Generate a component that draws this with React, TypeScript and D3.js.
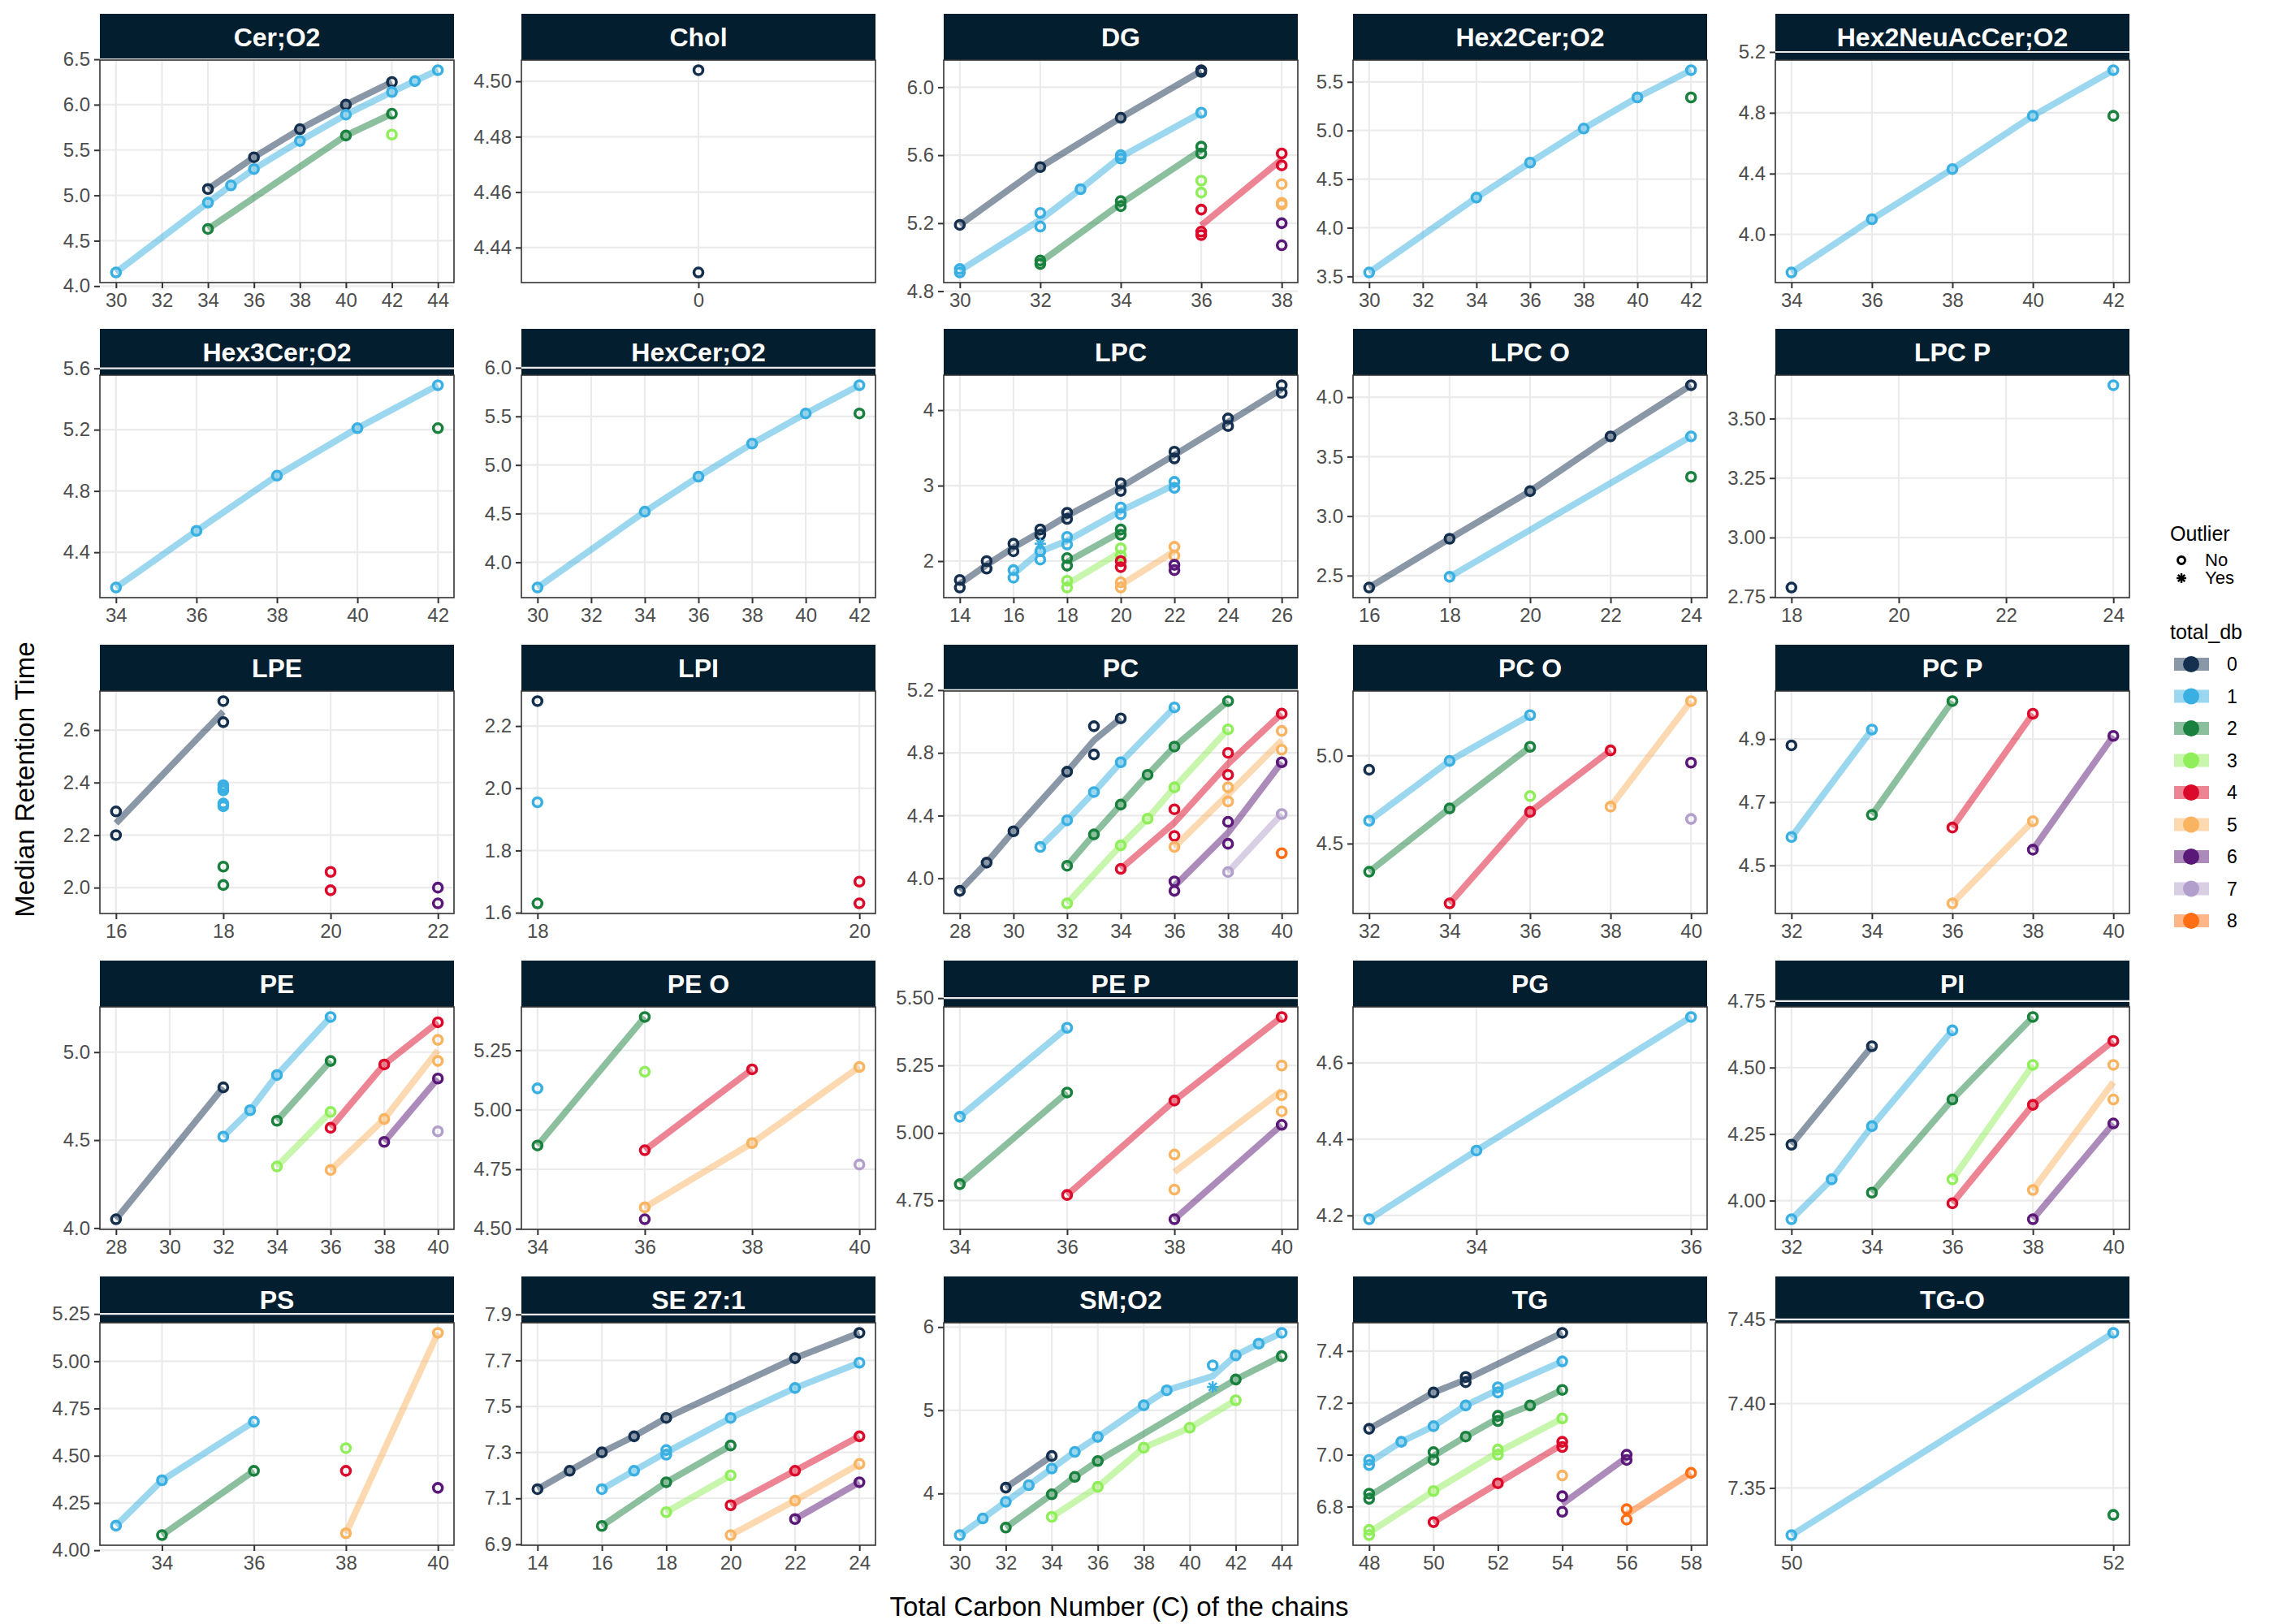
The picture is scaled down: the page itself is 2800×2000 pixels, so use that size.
import * as d3 from "d3";
import { useEffect, useRef } from "react";

// [carbon, median RT, total_db, outlier]
type Pt = [number, number, number, number?];

const dbColors = ["#15304F", "#3AB0E2", "#19803D", "#90EE5A", "#DC0A2A", "#F9B462", "#5A1878", "#B39FCC", "#FF6E14"];
const dbLevels = ["0", "1", "2", "3", "4", "5", "6", "7", "8"];
const outlierLevels = ["No", "Yes"];

const cerO2: Pt[] = [
  [34, 5.07, 0], [36, 5.42, 0], [38, 5.73, 0], [40, 6.0, 0], [42, 6.25, 0],
  [30, 4.15, 1], [34, 4.92, 1], [35, 5.11, 1], [36, 5.29, 1], [38, 5.6, 1], [40, 5.89, 1], [42, 6.14, 1], [43, 6.26, 1], [44, 6.38, 1],
  [34, 4.63, 2], [40, 5.66, 2], [42, 5.9, 2],
  [42, 5.67, 3],
];
const chol: Pt[] = [[0, 4.504, 0], [0, 4.431, 0]];
const dg: Pt[] = [
  [30, 5.19, 0], [32, 5.53, 0], [34, 5.82, 0], [36, 6.09, 0], [36, 6.1, 0],
  [30, 4.91, 1], [30, 4.93, 1], [32, 5.26, 1], [32, 5.18, 1], [33, 5.4, 1], [34, 5.58, 1], [34, 5.6, 1], [36, 5.85, 1],
  [32, 4.98, 2], [32, 4.96, 2], [34, 5.33, 2], [34, 5.3, 2], [36, 5.65, 2], [36, 5.61, 2],
  [36, 5.45, 3], [36, 5.38, 3],
  [36, 5.28, 4], [36, 5.15, 4], [36, 5.13, 4], [38, 5.61, 4], [38, 5.54, 4],
  [38, 5.43, 5], [38, 5.32, 5], [38, 5.31, 5],
  [38, 5.2, 6], [38, 5.07, 6],
];
const hex2Cer: Pt[] = [
  [30, 3.54, 1], [34, 4.31, 1], [36, 4.67, 1], [38, 5.02, 1], [40, 5.34, 1], [42, 5.62, 1],
  [42, 5.34, 2],
];
const hex2NeuAc: Pt[] = [
  [34, 3.75, 1], [36, 4.1, 1], [38, 4.43, 1], [40, 4.78, 1], [42, 5.08, 1],
  [42, 4.78, 2],
];
const hex3Cer: Pt[] = [
  [34, 4.17, 1], [36, 4.54, 1], [38, 4.9, 1], [40, 5.21, 1], [42, 5.49, 1],
  [42, 5.21, 2],
];
const hexCer: Pt[] = [
  [30, 3.74, 1], [34, 4.52, 1], [36, 4.88, 1], [38, 5.22, 1], [40, 5.53, 1], [42, 5.82, 1],
  [42, 5.53, 2],
];
const lpc: Pt[] = [
  [14, 1.75, 0], [14, 1.65, 0], [15, 2.0, 0], [15, 1.9, 0], [16, 2.23, 0], [16, 2.13, 0], [17, 2.42, 0], [17, 2.35, 0],
  [18, 2.64, 0], [18, 2.56, 0], [20, 3.03, 0], [20, 2.93, 0], [22, 3.45, 0], [22, 3.36, 0], [24, 3.89, 0], [24, 3.79, 0], [26, 4.33, 0], [26, 4.23, 0],
  [16, 1.88, 1], [16, 1.78, 1], [17, 2.13, 1], [17, 2.02, 1], [17, 2.23, 1, 1], [18, 2.32, 1], [18, 2.22, 1], [20, 2.71, 1], [20, 2.62, 1], [22, 3.05, 1], [22, 2.97, 1],
  [18, 2.04, 2], [18, 1.94, 2], [20, 2.42, 2], [20, 2.35, 2],
  [18, 1.74, 3], [18, 1.65, 3], [20, 2.17, 3], [20, 2.07, 3],
  [20, 2.0, 4], [20, 1.92, 4],
  [20, 1.72, 5], [20, 1.65, 5], [22, 2.19, 5], [22, 2.07, 5],
  [22, 1.95, 6], [22, 1.88, 6],
];
const lpcO: Pt[] = [
  [16, 2.4, 0], [18, 2.81, 0], [20, 3.21, 0], [22, 3.67, 0], [24, 4.1, 0],
  [18, 2.49, 1], [24, 3.67, 1],
  [24, 3.33, 2],
];
const lpcP: Pt[] = [[18, 2.79, 0], [24, 3.64, 1]];
const lpe: Pt[] = [
  [16, 2.29, 0], [16, 2.2, 0], [18, 2.71, 0], [18, 2.63, 0],
  [18, 2.39, 1], [18, 2.38, 1], [18, 2.37, 1], [18, 2.32, 1], [18, 2.31, 1],
  [18, 2.08, 2], [18, 2.01, 2],
  [20, 2.06, 4], [20, 1.99, 4],
  [22, 2.0, 6], [22, 1.94, 6],
];
const lpi: Pt[] = [[18, 2.28, 0], [18, 1.955, 1], [18, 1.63, 2], [20, 1.7, 4], [20, 1.63, 4]];
const pc: Pt[] = [
  [28, 3.92, 0], [29, 4.1, 0], [30, 4.3, 0], [32, 4.68, 0], [33, 4.79, 0], [33, 4.97, 0], [34, 5.02, 0],
  [31, 4.2, 1], [32, 4.37, 1], [33, 4.55, 1], [34, 4.74, 1], [36, 5.09, 1],
  [32, 4.08, 2], [33, 4.28, 2], [34, 4.47, 2], [35, 4.66, 2], [36, 4.84, 2], [38, 5.13, 2],
  [32, 3.84, 3], [34, 4.21, 3], [35, 4.38, 3], [36, 4.58, 3], [38, 4.95, 3],
  [34, 4.06, 4], [36, 4.44, 4], [36, 4.27, 4], [38, 4.8, 4], [38, 4.66, 4], [40, 5.05, 4],
  [36, 4.2, 5], [38, 4.58, 5], [38, 4.49, 5], [40, 4.94, 5], [40, 4.82, 5],
  [36, 3.98, 6], [36, 3.92, 6], [38, 4.36, 6], [38, 4.22, 6], [40, 4.74, 6],
  [38, 4.04, 7], [40, 4.41, 7],
  [40, 4.16, 8],
];
const pcO: Pt[] = [
  [32, 4.92, 0],
  [32, 4.63, 1], [34, 4.97, 1], [36, 5.23, 1],
  [32, 4.34, 2], [34, 4.7, 2], [36, 5.05, 2],
  [36, 4.77, 3],
  [34, 4.16, 4], [36, 4.68, 4], [38, 5.03, 4],
  [38, 4.71, 5], [40, 5.31, 5],
  [40, 4.96, 6],
  [40, 4.64, 7],
];
const pcP: Pt[] = [
  [32, 4.88, 0],
  [32, 4.59, 1], [34, 4.93, 1],
  [34, 4.66, 2], [36, 5.02, 2],
  [36, 4.62, 4], [38, 4.98, 4],
  [36, 4.38, 5], [38, 4.64, 5],
  [38, 4.55, 6], [40, 4.91, 6],
];
const pe: Pt[] = [
  [28, 4.05, 0], [32, 4.8, 0],
  [32, 4.52, 1], [33, 4.67, 1], [34, 4.87, 1], [36, 5.2, 1],
  [34, 4.61, 2], [36, 4.95, 2],
  [34, 4.35, 3], [36, 4.66, 3],
  [36, 4.57, 4], [38, 4.93, 4], [40, 5.17, 4],
  [36, 4.33, 5], [38, 4.62, 5], [40, 4.95, 5], [40, 5.07, 5],
  [38, 4.49, 6], [40, 4.85, 6],
  [40, 4.55, 7],
];
const peO: Pt[] = [
  [34, 5.09, 1],
  [34, 4.85, 2], [36, 5.39, 2],
  [36, 5.16, 3],
  [36, 4.83, 4], [38, 5.17, 4],
  [36, 4.59, 5], [38, 4.86, 5], [40, 5.18, 5],
  [36, 4.54, 6],
  [40, 4.77, 7],
];
const peP: Pt[] = [
  [34, 5.06, 1], [36, 5.39, 1],
  [34, 4.81, 2], [36, 5.15, 2],
  [36, 4.77, 4], [38, 5.12, 4], [40, 5.43, 4],
  [38, 4.92, 5], [38, 4.79, 5], [40, 5.25, 5], [40, 5.14, 5], [40, 5.08, 5],
  [38, 4.68, 6], [40, 5.03, 6],
];
const pg: Pt[] = [[33, 4.19, 1], [34, 4.37, 1], [36, 4.72, 1]];
const pi: Pt[] = [
  [32, 4.21, 0], [34, 4.58, 0],
  [32, 3.93, 1], [33, 4.08, 1], [34, 4.28, 1], [36, 4.64, 1],
  [34, 4.03, 2], [36, 4.38, 2], [38, 4.69, 2],
  [36, 4.08, 3], [38, 4.51, 3],
  [36, 3.99, 4], [38, 4.36, 4], [40, 4.6, 4],
  [38, 4.04, 5], [40, 4.51, 5], [40, 4.38, 5],
  [38, 3.93, 6], [40, 4.29, 6],
];
const ps: Pt[] = [
  [33, 4.13, 1], [34, 4.37, 1], [36, 4.68, 1],
  [34, 4.08, 2], [36, 4.42, 2],
  [38, 4.54, 3],
  [38, 4.42, 4],
  [38, 4.09, 5], [40, 5.15, 5],
  [40, 4.33, 6],
];
const se271: Pt[] = [
  [14, 7.14, 0], [15, 7.22, 0], [16, 7.3, 0], [17, 7.37, 0], [18, 7.45, 0], [22, 7.71, 0], [24, 7.82, 0],
  [16, 7.14, 1], [17, 7.22, 1], [18, 7.31, 1], [18, 7.29, 1], [20, 7.45, 1], [22, 7.58, 1], [24, 7.69, 1],
  [16, 6.98, 2], [18, 7.17, 2], [20, 7.33, 2],
  [18, 7.04, 3], [20, 7.2, 3],
  [20, 7.07, 4], [22, 7.22, 4], [24, 7.37, 4],
  [20, 6.94, 5], [22, 7.09, 5], [24, 7.25, 5],
  [22, 7.01, 6], [24, 7.17, 6],
];
const smO2: Pt[] = [
  [32, 4.07, 0], [34, 4.45, 0],
  [30, 3.5, 1], [31, 3.7, 1], [32, 3.9, 1], [33, 4.1, 1], [34, 4.3, 1], [35, 4.5, 1], [36, 4.68, 1], [38, 5.06, 1],
  [39, 5.24, 1], [41, 5.54, 1], [42, 5.66, 1], [43, 5.8, 1], [44, 5.93, 1], [41, 5.28, 1, 1],
  [32, 3.59, 2], [34, 3.99, 2], [35, 4.2, 2], [36, 4.39, 2], [42, 5.37, 2], [44, 5.65, 2],
  [34, 3.72, 3], [36, 4.08, 3], [38, 4.55, 3], [40, 4.79, 3], [42, 5.12, 3],
];
const tg: Pt[] = [
  [48, 7.1, 0], [50, 7.24, 0], [51, 7.3, 0], [51, 7.28, 0], [54, 7.47, 0],
  [48, 6.98, 1], [48, 6.96, 1], [49, 7.05, 1], [50, 7.11, 1], [51, 7.19, 1], [52, 7.26, 1], [52, 7.24, 1], [54, 7.36, 1],
  [48, 6.85, 2], [48, 6.83, 2], [50, 7.01, 2], [50, 6.98, 2], [51, 7.07, 2], [52, 7.15, 2], [52, 7.13, 2], [53, 7.19, 2], [54, 7.25, 2],
  [48, 6.71, 3], [48, 6.69, 3], [50, 6.86, 3], [52, 7.02, 3], [52, 7.0, 3], [54, 7.14, 3],
  [50, 6.74, 4], [52, 6.89, 4], [54, 7.05, 4], [54, 7.03, 4],
  [54, 6.92, 5],
  [54, 6.84, 6], [54, 6.78, 6], [56, 7.0, 6], [56, 6.98, 6],
  [56, 6.79, 8], [56, 6.75, 8], [58, 6.93, 8],
];
const tgO: Pt[] = [[50, 7.322, 1], [52, 7.442, 1], [52, 7.334, 2]];

const classNames = ["Cer;O2", "Chol", "DG", "Hex2Cer;O2", "Hex2NeuAcCer;O2", "Hex3Cer;O2", "HexCer;O2", "LPC", "LPC O", "LPC P",
  "LPE", "LPI", "PC", "PC O", "PC P", "PE", "PE O", "PE P", "PG", "PI", "PS", "SE 27:1", "SM;O2", "TG", "TG-O"];
const classData = [cerO2, chol, dg, hex2Cer, hex2NeuAc, hex3Cer, hexCer, lpc, lpcO, lpcP,
  lpe, lpi, pc, pcO, pcP, pe, peO, peP, pg, pi, ps, se271, smO2, tg, tgO];
const xTicks: number[][] = [
  [30, 32, 34, 36, 38, 40, 42, 44], [0], [30, 32, 34, 36, 38], [30, 32, 34, 36, 38, 40, 42], [34, 36, 38, 40, 42],
  [34, 36, 38, 40, 42], [30, 32, 34, 36, 38, 40, 42], [14, 16, 18, 20, 22, 24, 26], [16, 18, 20, 22, 24], [18, 20, 22, 24],
  [16, 18, 20, 22], [18, 20], [28, 30, 32, 34, 36, 38, 40], [32, 34, 36, 38, 40], [32, 34, 36, 38, 40],
  [28, 30, 32, 34, 36, 38, 40], [34, 36, 38, 40], [34, 36, 38, 40], [34, 36], [32, 34, 36, 38, 40],
  [34, 36, 38, 40], [14, 16, 18, 20, 22, 24], [30, 32, 34, 36, 38, 40, 42, 44], [48, 50, 52, 54, 56, 58], [50, 52],
];
const yTicks: string[][] = [
  ["4.0", "4.5", "5.0", "5.5", "6.0", "6.5"], ["4.44", "4.46", "4.48", "4.50"], ["4.8", "5.2", "5.6", "6.0"], ["3.5", "4.0", "4.5", "5.0", "5.5"], ["4.0", "4.4", "4.8", "5.2"],
  ["4.4", "4.8", "5.2", "5.6"], ["4.0", "4.5", "5.0", "5.5", "6.0"], ["2", "3", "4"], ["2.5", "3.0", "3.5", "4.0"], ["2.75", "3.00", "3.25", "3.50"],
  ["2.0", "2.2", "2.4", "2.6"], ["1.6", "1.8", "2.0", "2.2"], ["4.0", "4.4", "4.8", "5.2"], ["4.5", "5.0"], ["4.5", "4.7", "4.9"],
  ["4.0", "4.5", "5.0"], ["4.50", "4.75", "5.00", "5.25"], ["4.75", "5.00", "5.25", "5.50"], ["4.2", "4.4", "4.6"], ["4.00", "4.25", "4.50", "4.75"],
  ["4.00", "4.25", "4.50", "4.75", "5.00", "5.25"], ["6.9", "7.1", "7.3", "7.5", "7.7", "7.9"], ["4", "5", "6"], ["6.8", "7.0", "7.2", "7.4"], ["7.35", "7.40", "7.45"],
];

// line through the mean RT at each carbon number of one total_db group
function groupLine(pts: Pt[]): [number, number][] | null {
  const byX = d3.rollups(pts, (v) => d3.mean(v, (p) => p[1])!, (p) => p[0]).sort((a, b) => a[0] - b[0]);
  return byX.length >= 2 ? byX : null;
}

const colLeft = [123, 642, 1162, 1666, 2186];
const rowTop = [17, 405, 794, 1183, 1572];
const panelW = 436, stripH = 57, plotH = 274;
const font = "'Liberation Sans', Arial, sans-serif";

export default function App() {
  const ref = useRef<SVGSVGElement | null>(null);

  useEffect(() => {
    if (!ref.current) return;
    document.body.style.margin = "0";
    const svg = d3.select(ref.current);
    svg.selectAll("*").remove();

    classNames.forEach((name, idx) => {
      const data = classData[idx];
      const left = colLeft[idx % 5];
      const top = rowTop[Math.floor(idx / 5)];
      const g = svg.append("g").attr("transform", `translate(${left},${top})`);

      const groups = d3.group(data, (d) => d[2]);
      const lines: { db: number; line: [number, number][] }[] = [];
      groups.forEach((pts, db) => {
        const line = groupLine(pts);
        if (line) lines.push({ db, line });
      });

      let [xmin, xmax] = d3.extent(data, (d) => d[0]) as [number, number];
      if (xmin === xmax) { xmin -= 1; xmax += 1; }
      const xpad = (xmax - xmin) * 0.05;
      const [ymin, ymax] = d3.extent(data, (d) => d[1]) as [number, number];
      const ypad = (ymax - ymin) * 0.05;

      const x = d3.scaleLinear().domain([xmin - xpad, xmax + xpad]).range([0, panelW]);
      const y = d3.scaleLinear().domain([ymin - ypad, ymax + ypad]).range([stripH + plotH, stripH]);

      // strip
      g.append("rect").attr("width", panelW).attr("height", stripH).attr("fill", "#031E2F");
      g.append("text").attr("x", panelW / 2).attr("y", stripH / 2 + 11).attr("text-anchor", "middle")
        .attr("fill", "white").attr("font-family", font).attr("font-weight", "bold").attr("font-size", 32).text(name);

      // grid
      const yt = yTicks[idx].map(Number);
      g.append("g").selectAll("line.h").data(yt).join("line")
        .attr("x1", 0).attr("x2", panelW).attr("y1", (d) => y(d)).attr("y2", (d) => y(d))
        .attr("stroke", "#EBEBEB").attr("stroke-width", 2.2);
      g.append("g").selectAll("line.v").data(xTicks[idx]).join("line")
        .attr("y1", stripH).attr("y2", stripH + plotH).attr("x1", (d) => x(d)).attr("x2", (d) => x(d))
        .attr("stroke", "#EBEBEB").attr("stroke-width", 2.2);

      // group lines
      const lineGen = d3.line<[number, number]>().x((d) => x(d[0])).y((d) => y(d[1]));
      g.append("g").selectAll("path").data(lines).join("path")
        .attr("d", (f) => lineGen(f.line)).attr("fill", "none")
        .attr("stroke", (f) => dbColors[f.db]).attr("stroke-opacity", 0.5)
        .attr("stroke-width", 8).attr("stroke-linejoin", "round");

      // points
      const pg = g.append("g");
      data.forEach((d) => {
        const cx = x(d[0]), cy = y(d[1]), col = dbColors[d[2]];
        if (d[3]) {
          const r = 7;
          [[0, r], [r, 0], [r * 0.7, r * 0.7], [r * 0.7, -r * 0.7]].forEach(([dx, dy]) => {
            pg.append("line").attr("x1", cx - dx).attr("y1", cy - dy).attr("x2", cx + dx).attr("y2", cy + dy)
              .attr("stroke", col).attr("stroke-width", 2.5);
          });
        } else {
          pg.append("circle").attr("cx", cx).attr("cy", cy).attr("r", 5.5)
            .attr("fill", "none").attr("stroke", col).attr("stroke-width", 3.6);
        }
      });

      // border
      g.append("rect").attr("y", stripH).attr("width", panelW).attr("height", plotH)
        .attr("fill", "none").attr("stroke", "#333333").attr("stroke-width", 1.6);

      // axes
      const ax = g.append("g").attr("transform", `translate(0,${stripH + plotH})`)
        .call(d3.axisBottom(x).tickValues(xTicks[idx]).tickSize(7).tickPadding(6).tickFormat(d3.format("d")));
      const ay = g.append("g")
        .call(d3.axisLeft(y).tickValues(yt).tickSize(7).tickPadding(5).tickFormat((_d, i) => yTicks[idx][i]));
      [ax, ay].forEach((a) => {
        a.select(".domain").remove();
        a.selectAll("line").attr("stroke", "#333333").attr("stroke-width", 2);
        a.selectAll("text").attr("fill", "#4D4D4D").attr("font-size", 24).attr("font-family", font);
      });
    });

    // axis titles
    svg.append("text").attr("x", 1378).attr("y", 1990).attr("text-anchor", "middle")
      .attr("font-family", font).attr("font-size", 33).text("Total Carbon Number (C) of the chains");
    svg.append("text").attr("transform", "translate(42,960) rotate(-90)").attr("text-anchor", "middle")
      .attr("font-family", font).attr("font-size", 33).text("Median Retention Time");

    // legends
    const lg = svg.append("g").attr("font-family", font);
    lg.append("text").attr("x", 2672).attr("y", 666).attr("font-size", 25).text("Outlier");
    outlierLevels.forEach((lab, i) => {
      const cy = 690 + i * 22;
      if (i === 0) {
        lg.append("circle").attr("cx", 2686).attr("cy", cy).attr("r", 4.5).attr("fill", "none").attr("stroke", "black").attr("stroke-width", 3);
      } else {
        [[0, 6], [6, 0], [4.2, 4.2], [4.2, -4.2]].forEach(([dx, dy]) => {
          lg.append("line").attr("x1", 2686 - dx).attr("y1", cy - dy).attr("x2", 2686 + dx).attr("y2", cy + dy)
            .attr("stroke", "black").attr("stroke-width", 2.5);
        });
      }
      lg.append("text").attr("x", 2715).attr("y", cy + 7).attr("font-size", 22).text(lab);
    });
    lg.append("text").attr("x", 2672).attr("y", 787).attr("font-size", 25).text("total_db");
    dbLevels.forEach((lab, i) => {
      const cy = 818 + i * 39.5;
      lg.append("rect").attr("x", 2677).attr("y", cy - 8).attr("width", 43).attr("height", 16)
        .attr("fill", dbColors[i]).attr("opacity", 0.5);
      lg.append("ellipse").attr("cx", 2698).attr("cy", cy).attr("rx", 10).attr("ry", 10).attr("fill", dbColors[i]);
      lg.append("text").attr("x", 2742).attr("y", cy + 8).attr("font-size", 23).text(lab);
    });
  }, []);

  return <svg ref={ref} width={2800} height={2000} style={{ display: "block", background: "white" }} />;
}
